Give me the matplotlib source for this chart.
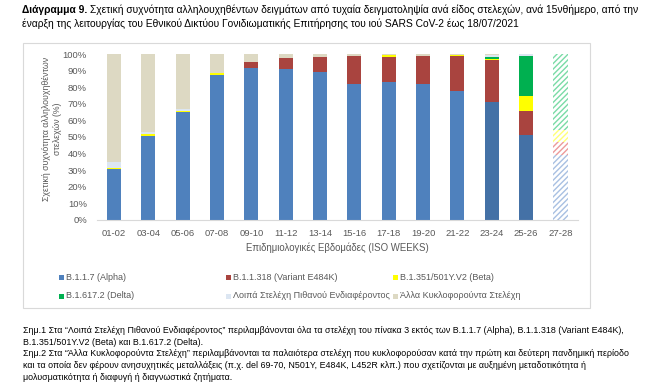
import matplotlib
matplotlib.use("Agg")
import matplotlib.pyplot as plt
import numpy as np
from matplotlib.patches import Rectangle

plt.rcParams["font.family"] = ["Liberation Sans", "DejaVu Sans"]

# ── Données (% des séquences par 15 jours) ───────────────────────────────────
weeks = ["01-02", "03-04", "05-06", "07-08", "09-10", "11-12", "13-14",
         "15-16", "17-18", "19-20", "21-22", "23-24", "25-26", "27-28"]
alpha = [30.8, 50.8, 64.9, 87.5, 91.9, 91.2, 89.5, 82.3, 83.3, 81.9, 78.0, 71.2, 51.0, 38.9]
e484k = [0, 0, 0, 0, 3.4, 6.4, 8.7, 16.7, 15.3, 16.9, 21.0, 25.2, 14.9, 8.1]
beta = [0.5, 0.8, 1.0, 1.0, 0, 0, 0, 0, 0.8, 0, 0.5, 0.6, 8.7, 7.3]
delta = [0, 0, 0, 0, 0, 0, 0, 0, 0, 0, 0, 1.4, 24.4, 45.7]
other_interest = [3.6, 1.2, 1.0, 0, 0, 0, 0, 0, 0, 0, 0, 1.0, 1.0, 0]
other_circ = [round(100 - a - b - c - d - e, 1) for a, b, c, d, e in
              zip(alpha, e484k, beta, delta, other_interest)]

series_labels = ["B.1.1.7 (Alpha)", "B.1.1.318 (Variant E484K)", "B.1.351/501Y.V2 (Beta)",
                 "B.1.617.2 (Delta)", "Λοιπά Στελέχη Πιθανού Ενδιαφέροντος",
                 "Άλλα Κυκλοφορούντα Στελέχη"]
series_values = [alpha, e484k, beta, delta, other_interest, other_circ]

# ── Style ─────────────────────────────────────────────────────────────────────
COLORS = ["#4F81BD", "#A9443F", "#FFFF00", "#00B050", "#DCE6F2", "#DDD9C3"]
DARK_BLUE = "#4471A6"
DARK_IDX = {11, 12}          # barres plus foncées dans l'original
HATCH_IDX = {13}             # période incomplète, hachurée
HATCH_COLORS = ["#A8C0E2", "#EC9A9A", "#FFFF77", "#7ADBA6", "#DCE6F2", "#DDD9C3"]
TEXT = "#595959"

fig = plt.figure(figsize=(6.5, 3.89), dpi=100)
fig.patch.set_facecolor("white")
W, H = 650, 389


def fx(px):
    return px / W


def fy(py):
    return 1 - py / H


# Cadre du graphique
fig.add_artist(Rectangle((fx(22.7), fy(308.3)), fx(590 - 22.7), (308.3 - 42.7) / H,
                         transform=fig.transFigure, fill=False,
                         edgecolor="#D9D9D9", linewidth=0.8))

ax = fig.add_axes([fx(96.7), fy(219.7), fx(577.7 - 96.7), (219.7 - 54.3) / H])
x = np.arange(len(weeks))
bottom = np.zeros(len(weeks))
for si, vals in enumerate(series_values):
    vals = np.array(vals, dtype=float)
    for i in range(len(weeks)):
        if vals[i] <= 0:
            continue
        if i in HATCH_IDX:
            ax.bar(x[i], vals[i], bottom=bottom[i], width=0.41, color="white",
                   edgecolor=HATCH_COLORS[si], hatch="//////", linewidth=0)
        else:
            c = COLORS[si]
            if si == 0 and i in DARK_IDX:
                c = DARK_BLUE
            ax.bar(x[i], vals[i], bottom=bottom[i], width=0.41, color=c, linewidth=0)
    bottom += vals

ax.set_xlim(-0.5, len(weeks) - 0.5)
ax.set_ylim(0, 100)
ax.set_yticks(range(0, 101, 10))
ax.set_yticklabels([f"{v}%" for v in range(0, 101, 10)])
ax.set_xticks(x)
ax.set_xticklabels(weeks)
ax.tick_params(axis="both", length=0, labelsize=6.8, colors=TEXT)
ax.tick_params(axis="y", pad=7)
ax.tick_params(axis="x", pad=7)
for side in ("top", "right", "left"):
    ax.spines[side].set_visible(False)
ax.spines["bottom"].set_color("#D9D9D9")
ax.spines["bottom"].set_linewidth(0.8)
ax.set_xlabel("Επιδημιολογικές Εβδομάδες (ISO WEEKS)", fontsize=6.9, color=TEXT)
ax.xaxis.set_label_coords(0.5, -0.171)
ax.xaxis.label.set_va("center")
ax.set_ylabel("Σχετική συχνότητα αλληλουχηθέντων\nστελεχών (%)", fontsize=6.3,
              color=TEXT, linespacing=1.3)
ax.yaxis.set_label_coords(-0.092, 0.55)
ax.yaxis.label.set_va("center")

# Légende (3 colonnes, 2 lignes)
leg_cols = [61, 228, 395]
leg_rows = [277.7, 296]
for k, label in enumerate(series_labels):
    cx = leg_cols[k % 3]
    cy = leg_rows[k // 3]
    fig.add_artist(Rectangle((fx(cx - 2.5), fy(cy + 2.5)), fx(5), 5 / H,
                             transform=fig.transFigure, facecolor=COLORS[k],
                             edgecolor="none"))
    fig.text(fx(cx + 5), fy(cy), label, fontsize=6.5, color=TEXT, va="center", ha="left")

# Titre
renderer = fig.canvas.get_renderer()
t_bold = fig.text(fx(22), fy(10), "Διάγραμμα 9.", fontsize=7.4, fontweight="bold",
                  color="black", va="center", ha="left")
bb = t_bold.get_window_extent(renderer=renderer)
fig.text(bb.x1 / fig.bbox.width + fx(3), fy(10),
         "Σχετική συχνότητα αλληλουχηθέντων δειγμάτων από τυχαία δειγματοληψία ανά είδος "
         "στελεχών, ανά 15νθήμερο, από την",
         fontsize=7.4, color="black", va="center", ha="left")
fig.text(fx(22), fy(24),
         "έναρξη της λειτουργίας του Εθνικού Δικτύου Γονιδιωματικής Επιτήρησης του ιού "
         "SARS CoV-2 έως 18/07/2021",
         fontsize=7.4, color="black", va="center", ha="left")

# Notes
notes = [
    "Σημ.1 Στα “Λοιπά Στελέχη Πιθανού Ενδιαφέροντος” περιλαμβάνονται όλα τα στελέχη του "
    "πίνακα 3 εκτός των B.1.1.7 (Alpha), B.1.1.318 (Variant E484K),",
    "B.1.351/501Y.V2 (Beta) και B.1.617.2 (Delta).",
    "Σημ.2 Στα “Άλλα Κυκλοφορούντα Στελέχη” περιλαμβάνονται τα παλαιότερα στελέχη που "
    "κυκλοφορούσαν κατά την πρώτη και δεύτερη πανδημική περίοδο",
    "και τα οποία δεν φέρουν ανησυχητικές μεταλλάξεις (π.χ. del 69-70, N501Y, E484K, L452R κλπ.) "
    "που σχετίζονται με αυξημένη μεταδοτικότητα ή",
    "μολυσματικότητα ή διαφυγή ή διαγνωστικά ζητήματα.",
]
for j, line in enumerate(notes):
    fig.text(fx(22.7), fy(330.7 + j * 11.65), line, fontsize=6.4, color="black",
             va="center", ha="left")

fig.savefig("out.png", dpi=100)
